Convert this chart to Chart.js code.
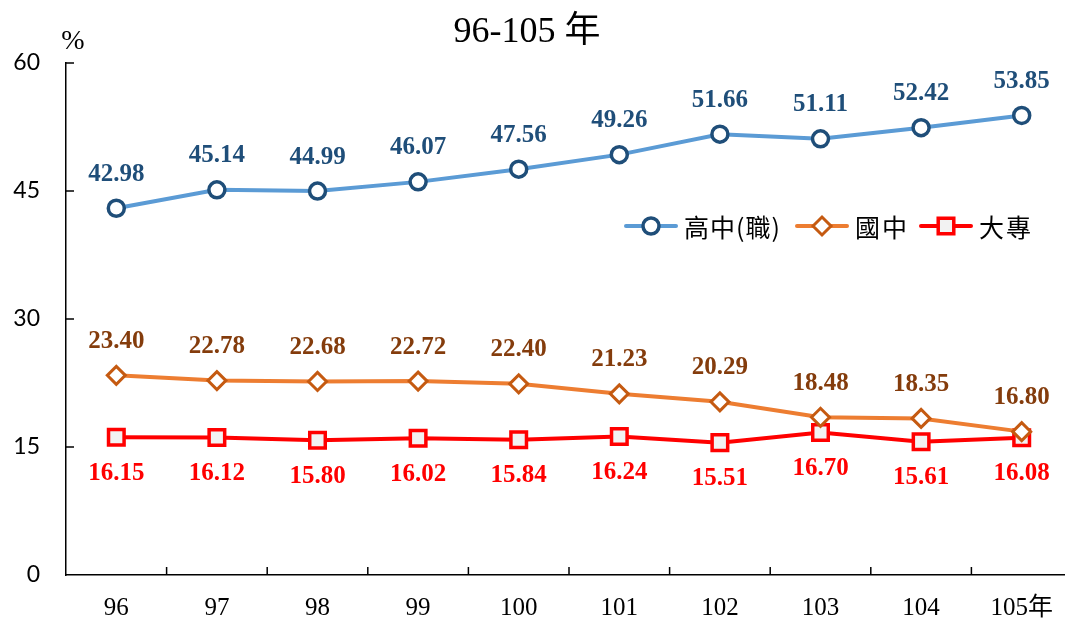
<!DOCTYPE html>
<html><head><meta charset="utf-8">
<script src="https://cdn.jsdelivr.net/npm/chart.js@4.4.1/dist/chart.umd.min.js"></script>
<style>
html,body{margin:0;padding:0;background:#fff;overflow:hidden;}
canvas{display:block;}
</style></head>
<body><canvas id="c" width="1072" height="619"></canvas>
<script>
const categories = ['96','97','98','99','100','101','102','103','104','105年'];
const seniorHigh = [42.98,45.14,44.99,46.07,47.56,49.26,51.66,51.11,52.42,53.85];
const juniorHigh = [23.40,22.78,22.68,22.72,22.40,21.23,20.29,18.48,18.35,16.80];
const college    = [16.15,16.12,15.80,16.02,15.84,16.24,15.51,16.70,15.61,16.08];
const seriesNames = ['高中(職)','國中','大專'];
const yTicks = [0,15,30,45,60];
const titleText = '96-105 年';
const unitText = '%';

const labelColors = ['#1F4E79','#843C0C','#FF0000'];
const labelOffsets = [-34,-34,36];

const overlay = {
  id:'overlay',
  afterDraw(chart){
    const ctx = chart.ctx, ca = chart.chartArea;
    const xs = chart.scales.x, ys = chart.scales.y;
    ctx.save();
    ctx.strokeStyle='#000'; ctx.lineWidth=1.5;
    yTicks.forEach(v=>{ if(v===0) return; const y=ys.getPixelForValue(v);
      ctx.beginPath(); ctx.moveTo(ca.left,y); ctx.lineTo(ca.left+8,y); ctx.stroke(); });
    for(let i=1;i<categories.length;i++){
      const x=(xs.getPixelForValue(i-1)+xs.getPixelForValue(i))/2;
      ctx.beginPath(); ctx.moveTo(x,ca.bottom); ctx.lineTo(x,ca.bottom-8); ctx.stroke();
    }
    ctx.fillStyle='#000'; ctx.textAlign='center'; ctx.textBaseline='middle';
    ctx.font="36px 'Liberation Serif', 'Noto Sans CJK TC', serif";
    ctx.fillText(titleText, 527, 33);
    ctx.font="28px 'Liberation Serif', serif";
    ctx.fillText(unitText, 73, 42);
    ctx.font="bold 25px 'Liberation Serif', serif";
    chart.data.datasets.forEach((ds,di)=>{
      const meta=chart.getDatasetMeta(di);
      ctx.fillStyle=labelColors[di];
      meta.data.forEach((pt,i)=>{
        ctx.fillText(ds.data[i].toFixed(2), pt.x, pt.y+labelOffsets[di]);
      });
    });
    const lx=[626,797,921], ly=226;
    ctx.font="25px 'Noto Sans CJK TC', sans-serif";
    ctx.textAlign='left';
    chart.data.datasets.forEach((ds,di)=>{
      const x0=lx[di];
      ctx.strokeStyle=ds.borderColor; ctx.lineWidth=ds.borderWidth; ctx.lineCap='round';
      ctx.beginPath(); ctx.moveTo(x0,ly); ctx.lineTo(x0+50,ly); ctx.stroke();
      ctx.lineCap='butt';
      ctx.fillStyle=ds.pointBackgroundColor; ctx.strokeStyle=ds.pointBorderColor; ctx.lineWidth=ds.pointBorderWidth;
      Chart.helpers.drawPoint(ctx,{pointStyle:ds.pointStyle,radius:ds.pointRadius,borderWidth:ds.pointBorderWidth,rotation:0},x0+25,ly);
      ctx.fillStyle='#000';
      ctx.letterSpacing = di===0 ? '1px' : '2px';
      ctx.fillText(seriesNames[di], x0+58, ly+1);
      ctx.letterSpacing = '0px';
    });
    ctx.restore();
  }
};

new Chart(document.getElementById('c'),{
  type:'line',
  data:{labels:categories,datasets:[
    {label:seriesNames[0],data:seniorHigh,borderColor:'#5B9BD5',borderWidth:4,pointStyle:'circle',pointRadius:8,
     pointBackgroundColor:'#FFFFFF',pointBorderColor:'#1F4E79',pointBorderWidth:3.5,tension:0},
    {label:seriesNames[1],data:juniorHigh,borderColor:'#ED7D31',borderWidth:4,pointStyle:'rectRot',pointRadius:9,
     pointBackgroundColor:'#FFFFFF',pointBorderColor:'#C55A11',pointBorderWidth:3,tension:0},
    {label:seriesNames[2],data:college,borderColor:'#FF0000',borderWidth:4,pointStyle:'rect',pointRadius:11,
     pointBackgroundColor:'#F2F2F2',pointBorderColor:'#FF0000',pointBorderWidth:3.5,tension:0}
  ]},
  options:{
    responsive:false,animation:false,devicePixelRatio:1,
    layout:{autoPadding:false,padding:{top:63,left:0,right:0,bottom:0}},
    plugins:{legend:{display:false},title:{display:false},tooltip:{enabled:false}},
    scales:{
      x:{offset:true,grid:{display:false,drawTicks:false},border:{display:true,color:'#000',width:1.5},
        ticks:{color:'#000',padding:18,font:{family:"'Liberation Serif', 'Noto Sans CJK TC', serif",size:25},maxRotation:0},
        afterFit(s){s.height=44;s.paddingLeft=0;s.paddingRight=0;}},
      y:{min:0,max:60,afterBuildTicks(s){s.ticks=yTicks.map(v=>({value:v}));},
        grid:{display:false,drawTicks:false},border:{display:true,color:'#000',width:1.5},
        ticks:{color:'#000',padding:26,font:{family:"Lato, 'Liberation Sans', sans-serif",size:23}},
        afterFit(s){s.width=66;s.paddingTop=0;s.paddingBottom=0;}}
    }
  },
  plugins:[overlay]
});
</script></body></html>
